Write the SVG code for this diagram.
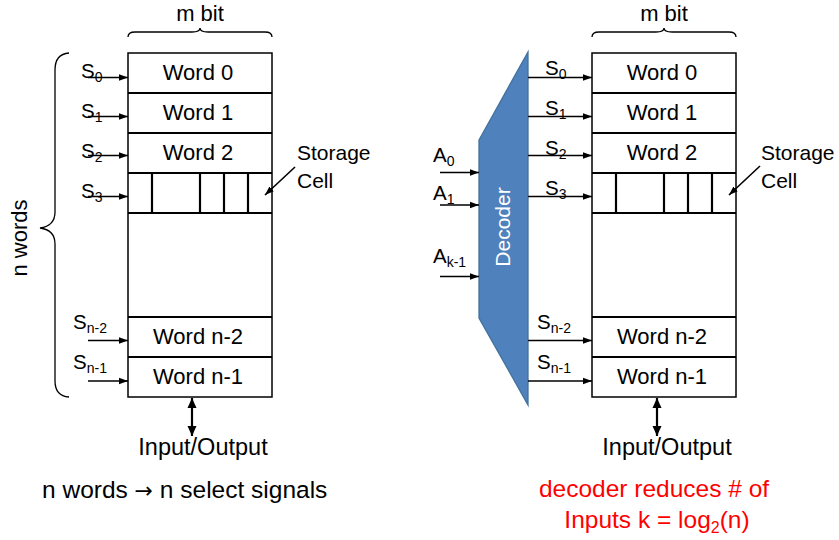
<svg xmlns="http://www.w3.org/2000/svg" width="839" height="540" viewBox="0 0 839 540">
<style>
text{font-family:"Liberation Sans",Arial,sans-serif;fill:#000}
.w{font-size:22px;text-anchor:middle}
.s{font-size:20.5px}
.sub{font-size:14px}
.cell{fill:#fff;stroke:#000;stroke-width:1.5}
.row{stroke:#000;stroke-width:2.2;fill:none}
.ar{stroke:#000;stroke-width:1.6;fill:none;marker-end:url(#ah)}
.br{stroke:#000;stroke-width:1.3;fill:none}
.io{stroke:#000;stroke-width:2.2;fill:none;marker-start:url(#ah2);marker-end:url(#ah2)}
</style>
<defs>
<marker id="ah" markerUnits="userSpaceOnUse" markerWidth="9" markerHeight="8" refX="9" refY="4" orient="auto"><path d="M0,0.8 L9,4 L0,7.2 z" fill="#000"/></marker>
<marker id="ah2" markerUnits="userSpaceOnUse" markerWidth="10" markerHeight="10" refX="10" refY="5" orient="auto-start-reverse"><path d="M0,0.5 L10,5 L0,9.5 z" fill="#000"/></marker>
</defs>
<rect width="839" height="540" fill="#fff"/>

<!-- LEFT MEMORY -->
<g id="left-memory">
<rect class="cell" x="128" y="53" width="144" height="344"/>
<path class="row" d="M128,93H272M128,133H272M128,173H272M128,213H272M128,317H272M128,357H272"/>
<path class="row" d="M152,173V213M200,173V213M224,173V213M248,173V213"/>
<text class="w" x="198" y="80">Word 0</text>
<text class="w" x="198" y="120">Word 1</text>
<text class="w" x="198" y="160">Word 2</text>
<text class="w" x="198" y="344">Word n-2</text>
<text class="w" x="198" y="384">Word n-1</text>
</g>
<g id="left-mbit">
<path class="br" d="M128,37 Q128,32 135,32 L192,32 Q200,32 200,28 Q200,32 208,32 L265,32 Q272,32 272,37"/>
<text class="w" x="200" y="21">m bit</text>
</g>
<g id="left-nwords">
<path class="br" d="M69,53 Q55,54 55,70 L55,212 Q55,226 40,228 Q55,230 55,244 L55,381 Q55,396 69,397"/>
<text class="w" transform="translate(27,238) rotate(-90)">n words</text>
</g>
<g id="left-storage">
<text font-size="21" x="297" y="160">Storage</text>
<text font-size="21" x="297" y="188">Cell</text>
</g>
<g id="left-io">
<text font-size="23.5" text-anchor="middle" x="203" y="455">Input/Output</text>
</g>
<g id="left-labels">
<text class="s" x="81" y="78">S<tspan class="sub" dy="4">0</tspan></text>
<text class="s" x="81" y="118">S<tspan class="sub" dy="4">1</tspan></text>
<text class="s" x="81" y="158">S<tspan class="sub" dy="4">2</tspan></text>
<text class="s" x="81" y="198">S<tspan class="sub" dy="4">3</tspan></text>
<text class="s" x="73" y="329">S<tspan class="sub" dy="4">n-2</tspan></text>
<text class="s" x="73" y="369">S<tspan class="sub" dy="4">n-1</tspan></text>
</g>

<!-- RIGHT MEMORY -->
<g id="right-memory">
<rect class="cell" x="592" y="53" width="144" height="344"/>
<path class="row" d="M592,93H736M592,133H736M592,173H736M592,213H736M592,317H736M592,357H736"/>
<path class="row" d="M616,173V213M664,173V213M688,173V213M712,173V213"/>
<text class="w" x="662" y="80">Word 0</text>
<text class="w" x="662" y="120">Word 1</text>
<text class="w" x="662" y="160">Word 2</text>
<text class="w" x="662" y="344">Word n-2</text>
<text class="w" x="662" y="384">Word n-1</text>
</g>
<g id="right-mbit">
<path class="br" d="M592,37 Q592,32 599,32 L656,32 Q664,32 664,28 Q664,32 672,32 L729,32 Q736,32 736,37"/>
<text class="w" x="664" y="21">m bit</text>
</g>
<g id="right-storage">
<text font-size="21" x="761" y="160">Storage</text>
<text font-size="21" x="761" y="188">Cell</text>
</g>
<g id="right-io">
<text font-size="23.5" text-anchor="middle" x="667" y="455">Input/Output</text>
</g>
<g id="right-labels">
<text class="s" x="545" y="75">S<tspan class="sub" dy="4">0</tspan></text>
<text class="s" x="545" y="115">S<tspan class="sub" dy="4">1</tspan></text>
<text class="s" x="545" y="155">S<tspan class="sub" dy="4">2</tspan></text>
<text class="s" x="545" y="195">S<tspan class="sub" dy="4">3</tspan></text>
<text class="s" x="537" y="329">S<tspan class="sub" dy="4">n-2</tspan></text>
<text class="s" x="537" y="369">S<tspan class="sub" dy="4">n-1</tspan></text>
</g>

<!-- DECODER -->
<g id="decoder">
<polygon points="479,140 528,52 528,405 479,318" fill="#4F81BD" stroke="#41719C" stroke-width="1.3"/>
<text font-size="21" text-anchor="middle" style="fill:#fff" transform="translate(510,227) rotate(-90)">Decoder</text>
</g>
<g id="address-labels">
<text class="s" x="433" y="162">A<tspan class="sub" dy="4">0</tspan></text>
<text class="s" x="433" y="200">A<tspan class="sub" dy="4">1</tspan></text>
<text class="s" x="433" y="263">A<tspan class="sub" dy="4">k-1</tspan></text>
</g>

<!-- CONNECTORS -->
<g id="connectors">
<line class="ar" x1="88" y1="77.5" x2="128" y2="77.5"/>
<line class="ar" x1="88" y1="116.5" x2="128" y2="116.5"/>
<line class="ar" x1="88" y1="155.5" x2="128" y2="155.5"/>
<line class="ar" x1="88" y1="196.5" x2="128" y2="196.5"/>
<line class="ar" x1="88" y1="340.5" x2="128" y2="340.5"/>
<line class="ar" x1="88" y1="381" x2="128" y2="381"/>
<line class="ar" x1="295" y1="167" x2="265" y2="195"/>
<line class="io" x1="192" y1="398" x2="192" y2="436"/>

<line class="ar" x1="528" y1="77.5" x2="592" y2="77.5"/>
<line class="ar" x1="528" y1="116.5" x2="592" y2="116.5"/>
<line class="ar" x1="528" y1="155.5" x2="592" y2="155.5"/>
<line class="ar" x1="528" y1="196.5" x2="592" y2="196.5"/>
<line class="ar" x1="528" y1="340.5" x2="592" y2="340.5"/>
<line class="ar" x1="528" y1="381" x2="592" y2="381"/>
<line class="ar" x1="760" y1="166" x2="729" y2="195"/>
<line class="io" x1="657" y1="398" x2="657" y2="436"/>

<line class="ar" x1="440" y1="172.5" x2="479" y2="172.5"/>
<line class="ar" x1="440" y1="205" x2="479" y2="205"/>
<line class="ar" x1="440" y1="276.5" x2="479" y2="276.5"/>
</g>

<!-- CAPTIONS -->
<g id="captions">
<text font-size="24.5" x="42" y="498">n words <tspan font-family="DejaVu Sans, sans-serif" font-size="22">→</tspan> n select signals</text>
<text font-size="24.5" text-anchor="middle" x="654" y="497" style="fill:#FF0000">decoder reduces # of</text>
<text font-size="24.5" text-anchor="middle" x="657" y="528" style="fill:#FF0000">Inputs k = log<tspan font-size="16" dy="5">2</tspan><tspan dy="-5">(n)</tspan></text>
</g>
</svg>
